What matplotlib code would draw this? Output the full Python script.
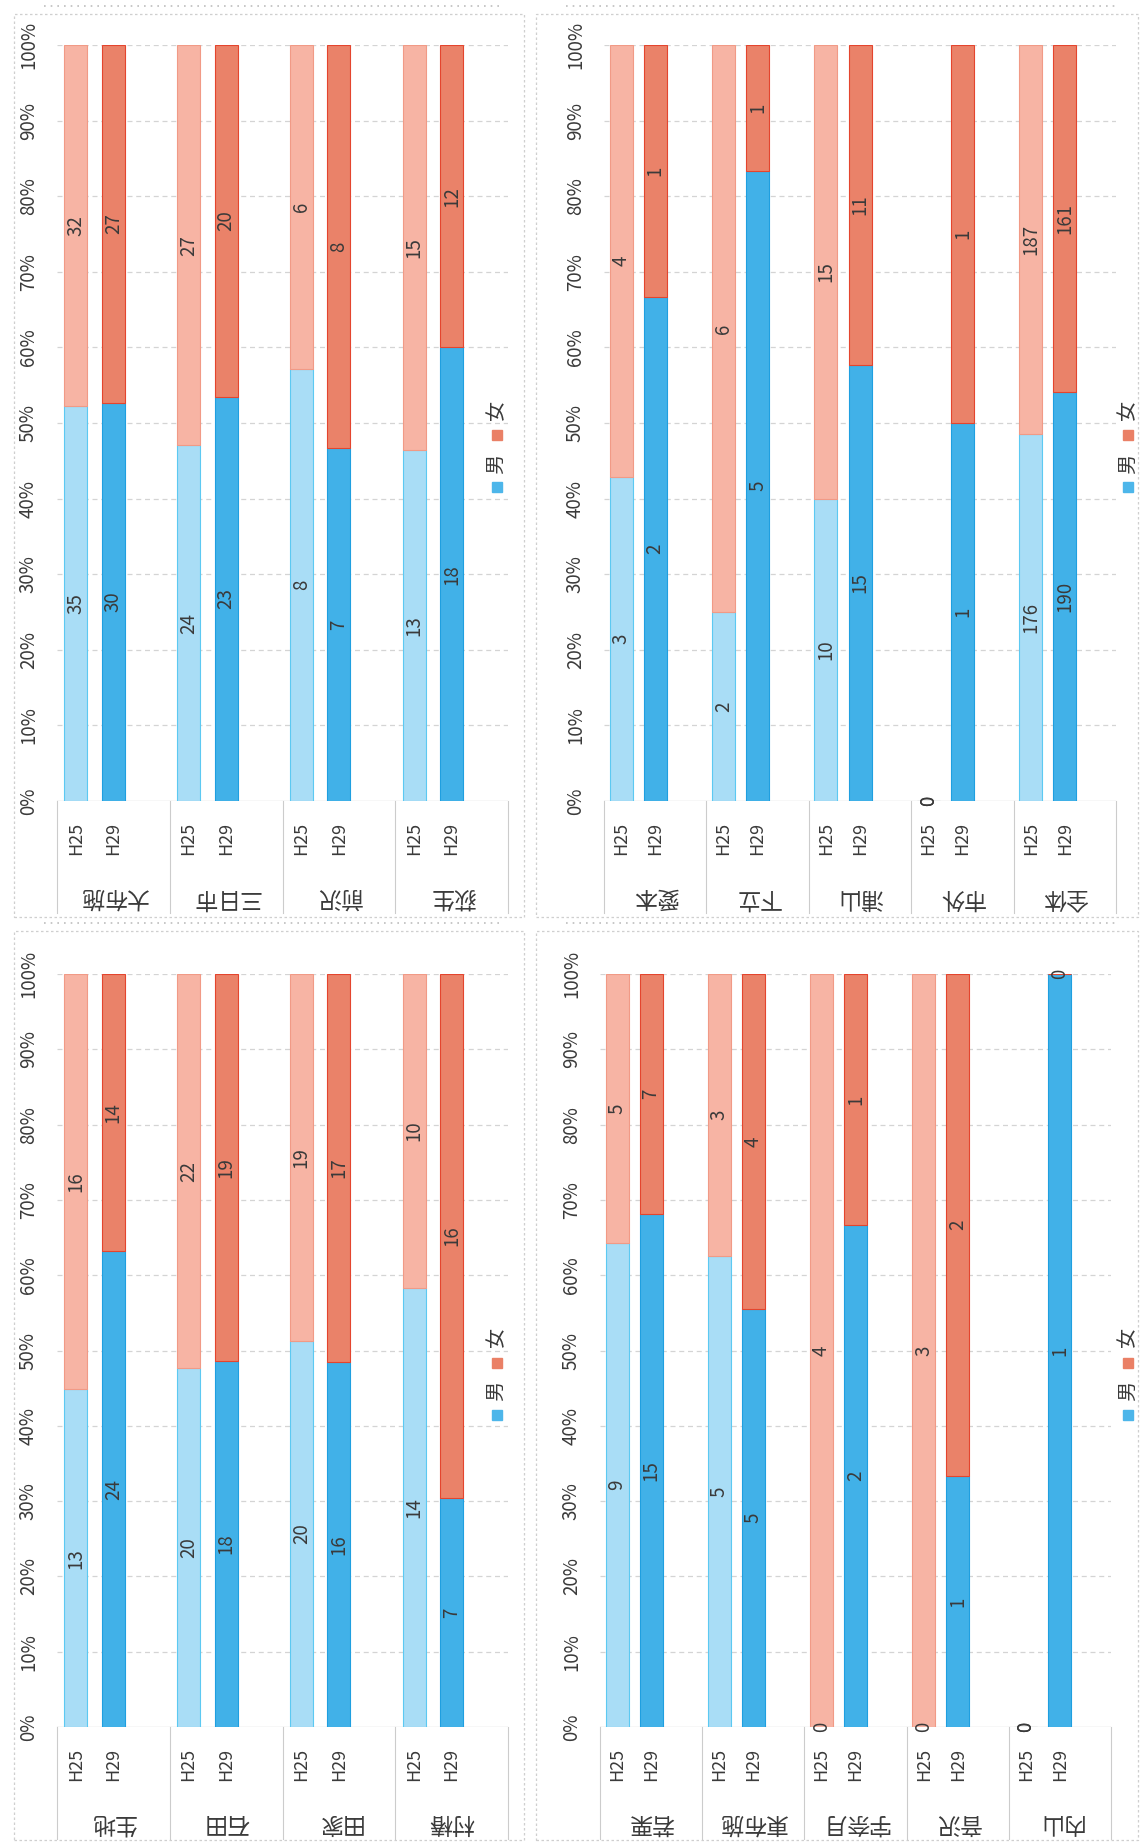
import matplotlib
matplotlib.use("Agg")
import matplotlib.pyplot as plt
from matplotlib.patches import Rectangle

plt.rcParams['font.family'] = ['Noto Sans CJK JP', 'DejaVu Sans']

# counts per district, H25 and H29, men / women
groups_tl = ['大布施', '三日市', '前沢', '荻生']
male_h25_tl = [35, 24, 8, 13]
female_h25_tl = [32, 27, 6, 15]
male_h29_tl = [30, 23, 7, 18]
female_h29_tl = [27, 20, 8, 12]

groups_bl = ['生地', '石田', '田家', '村椿']
male_h25_bl = [13, 20, 20, 14]
female_h25_bl = [16, 22, 19, 10]
male_h29_bl = [24, 18, 16, 7]
female_h29_bl = [14, 19, 17, 16]

groups_tr = ['愛本', '下立', '浦山', '市外', '全体']
male_h25_tr = [3, 2, 10, 0, 176]
female_h25_tr = [4, 6, 15, 0, 187]
male_h29_tr = [2, 5, 15, 1, 190]
female_h29_tr = [1, 1, 11, 1, 161]

groups_br = ['若栗', '東布施', '宇奈月', '音沢', '内山']
male_h25_br = [9, 5, 0, 0, 0]
female_h25_br = [5, 3, 4, 3, 0]
male_h29_br = [15, 5, 2, 1, 1]
female_h29_br = [7, 4, 1, 2, 0]

years = ['H25', 'H29']
pct_ticks = [0, .1, .2, .3, .4, .5, .6, .7, .8, .9, 1.0]
pct_labels = ['0%', '10%', '20%', '30%', '40%', '50%', '60%', '70%', '80%', '90%', '100%']

W, H = 1148, 1848
fig = plt.figure(figsize=(W / 100, H / 100), dpi=100)
fig.patch.set_facecolor('white')

male_col = ['#a9ddf6', '#41b1e8']
male_edge = ['#5cc9f2', '#1f9fe0']
fem_col = ['#f7b4a4', '#ea8269']
fem_edge = ['#f19a86', '#e4452e']
txt = '#3a3a3a'
grid = '#d4d4d4'


def frame(x0, y0, x1, y1):
    fig.patches.append(Rectangle((x0 / W, 1 - y1 / H), (x1 - x0) / W, (y1 - y0) / H,
                                 transform=fig.transFigure, fill=False,
                                 edgecolor='#cfcfcf', lw=0.9, ls=(0, (2, 2))))
    # cut-off heading line along the top of the page
    fig.add_artist(plt.Line2D([(x0 + 30) / W, (x1 - 20) / W], [1 - (y0 - 8) / H] * 2,
                              color='#bdbdbd', lw=1.2, ls=(0, (1, 3))))


def panel(x0, y0, x1, y1, groups, m25, f25, m29, f29, leg_x):
    ax = fig.add_axes([x0 / W, 1 - y1 / H, (x1 - x0) / W, (y1 - y0) / H])
    n = len(groups)
    hpx = y1 - y0
    slot = (x1 - x0) / (3 * n)
    bw = 23 / slot
    ax.set_xlim(-0.5, 3 * n - 0.5)
    ax.set_ylim(0, 1)
    for s in ax.spines.values():
        s.set_visible(False)
    ax.set_yticks(pct_ticks)
    ax.set_yticklabels(pct_labels, rotation=90, va='center', fontsize=13.5, color=txt)
    ax.tick_params(axis='y', length=0, pad=13)
    for t in pct_ticks[1:]:
        ax.axhline(t, color=grid, lw=0.9, ls=(0, (4, 3)), zorder=0)
    ax.axhline(0, color='#c4c4c4', lw=0.9, zorder=0)

    xt, xl = [], []
    for yi, (mv, fv) in enumerate([(m25, f25), (m29, f29)]):
        for g in range(n):
            pos = 3 * g + yi
            xt.append(pos)
            xl.append(years[yi])
            tot = mv[g] + fv[g]
            mf = mv[g] / tot if tot else 0
            ff = fv[g] / tot if tot else 0
            ax.bar(pos, mf, bw, color=male_col[yi], edgecolor=male_edge[yi], lw=0.8)
            ax.bar(pos, ff, bw, bottom=mf, color=fem_col[yi], edgecolor=fem_edge[yi], lw=0.8)
            ax.text(pos, mf / 2, str(mv[g]), rotation=90, ha='center', va='center',
                    fontsize=13.5, color=txt)
            ax.text(pos, mf + ff / 2, str(fv[g]), rotation=90, ha='center', va='center',
                    fontsize=13.5, color=txt)
    ax.set_xticks(xt)
    ax.set_xticklabels(xl, rotation=90, fontsize=13, color=txt)
    ax.tick_params(axis='x', length=0, pad=15)

    tr = ax.get_xaxis_transform()
    for g in range(n + 1):
        ax.plot([3 * g - 0.5] * 2, [0, -112 / hpx], transform=tr, clip_on=False,
                color='#cccccc', lw=0.8)
    for g in range(n):
        ax.text(3 * g + 1, -96 / hpx, groups[g], transform=tr, rotation=180,
                ha='center', va='center', fontsize=16.5, color=txt)

    # legend drawn rotated like the rest of the sheet
    ym = y0 + 0.49 * hpx
    for dy, col, lab in [(72, '#4db6ea', None), (48, None, '男'), (20, '#ea8066', None), (-6, None, '女')]:
        yy = ym + dy
        if col:
            fig.patches.append(Rectangle(((leg_x - 5) / W, 1 - (yy + 5) / H), 10 / W, 10 / H,
                                         transform=fig.transFigure, color=col))
        else:
            fig.text(leg_x / W, 1 - yy / H, lab, rotation=90, ha='center', va='center',
                     fontsize=14.5, color=txt)
    return ax


frame(14, 14, 524, 917)
frame(536, 14, 1138, 917)
frame(14, 931, 524, 1840)
frame(536, 931, 1138, 1840)

panel(57, 45, 508, 801, groups_tl, male_h25_tl, female_h25_tl, male_h29_tl, female_h29_tl, 497)
panel(604, 45, 1116, 801, groups_tr, male_h25_tr, female_h25_tr, male_h29_tr, female_h29_tr, 1128)
panel(57, 974, 508, 1727, groups_bl, male_h25_bl, female_h25_bl, male_h29_bl, female_h29_bl, 497)
panel(600, 974, 1111, 1727, groups_br, male_h25_br, female_h25_br, male_h29_br, female_h29_br, 1128)

fig.savefig('out.png', dpi=100, facecolor='white')
